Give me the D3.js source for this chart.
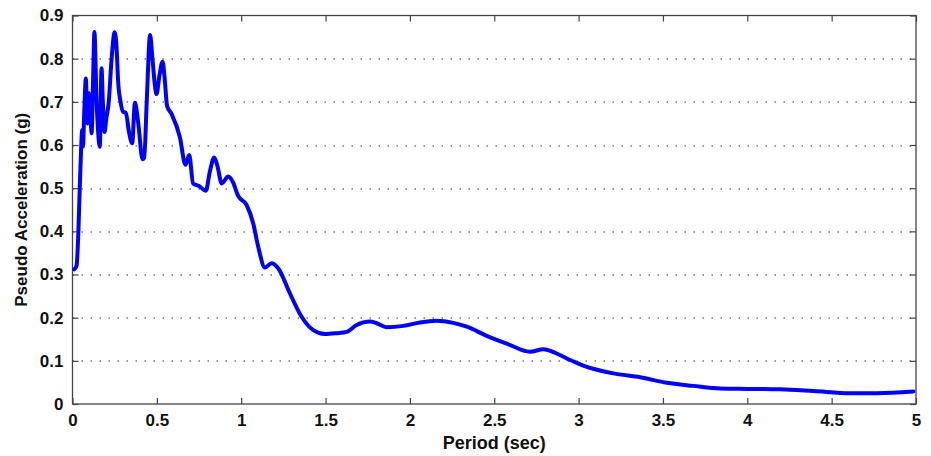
<!DOCTYPE html>
<html>
<head>
<meta charset="utf-8">
<script src="https://cdn.jsdelivr.net/npm/d3@7"></script>
<style>
  body { margin: 0; background: #fff; }
  svg text { font-family: "Liberation Sans", Arial, sans-serif; font-weight: bold; }
</style>
</head>
<body>
<svg id="chart" width="931" height="456"></svg>
<script>
// response spectrum
var periods = [0.01, 0.024, 0.035, 0.043, 0.052, 0.057, 0.062, 0.070, 0.079, 0.089,
    0.098, 0.106, 0.113, 0.122, 0.130, 0.142, 0.152, 0.162, 0.172, 0.180,
    0.190, 0.200, 0.215, 0.230, 0.250, 0.262, 0.270, 0.285, 0.300, 0.316,
    0.335, 0.354, 0.370, 0.390, 0.415, 0.425, 0.440, 0.460, 0.474, 0.488,
    0.498, 0.515, 0.534, 0.545, 0.561, 0.587, 0.636, 0.670, 0.692, 0.715,
    0.750, 0.790, 0.815, 0.840, 0.860, 0.884, 0.923, 0.950, 0.982, 1.032,
    1.071, 1.101, 1.141, 1.180, 1.220, 1.289, 1.358, 1.427, 1.496, 1.566,
    1.625, 1.684, 1.763, 1.803, 1.862, 1.961, 2.060, 2.159, 2.257, 2.337,
    2.455, 2.574, 2.712, 2.791, 2.870, 2.950, 3.028, 3.206, 3.365, 3.523,
    3.680, 3.839, 3.997, 4.195, 4.393, 4.610, 4.769, 4.985];

var accel = [0.312, 0.320, 0.400, 0.500, 0.600, 0.635, 0.597, 0.680, 0.754, 0.650,
    0.720, 0.680, 0.627, 0.750, 0.862, 0.710, 0.630, 0.596, 0.778, 0.700,
    0.630, 0.660, 0.700, 0.790, 0.861, 0.820, 0.750, 0.700, 0.677, 0.675,
    0.630, 0.604, 0.698, 0.650, 0.567, 0.570, 0.700, 0.855, 0.800, 0.740,
    0.718, 0.760, 0.793, 0.760, 0.690, 0.672, 0.619, 0.554, 0.577, 0.511,
    0.505, 0.494, 0.540, 0.571, 0.550, 0.511, 0.527, 0.515, 0.482, 0.461,
    0.419, 0.364, 0.316, 0.326, 0.314, 0.256, 0.202, 0.171, 0.162, 0.164,
    0.167, 0.183, 0.191, 0.187, 0.178, 0.181, 0.189, 0.193, 0.188, 0.179,
    0.158, 0.140, 0.121, 0.127, 0.117, 0.102, 0.089, 0.071, 0.062, 0.049,
    0.042, 0.036, 0.035, 0.034, 0.030, 0.025, 0.025, 0.029];

var xTicks = [0, 0.5, 1, 1.5, 2, 2.5, 3, 3.5, 4, 4.5, 5],
    yTicks = [0, 0.1, 0.2, 0.3, 0.4, 0.5, 0.6, 0.7, 0.8, 0.9];

var margin = {top: 15.5, right: 15, bottom: 52, left: 72.5},
    width = 931 - margin.left - margin.right,
    height = 456 - margin.top - margin.bottom,
    tick_len = 6,
    font_size = 17;

var svg = d3.select('#chart');
var g = svg.append('g')
    .attr('transform', 'translate(' + margin.left + ',' + margin.top + ')');

var x = d3.scaleLinear().domain([0, 5]).range([0, width]);
var y = d3.scaleLinear().domain([0, 0.9]).range([height, 0]);

// dotted horizontal grid
g.append('g')
    .selectAll('line')
    .data(yTicks.slice(1, -1)).enter()
    .append('line')
    .attr('x1', 0)
    .attr('x2', width)
    .attr('y1', function(d) { return Math.round(y(d)) + 0.5; })
    .attr('y2', function(d) { return Math.round(y(d)) + 0.5; })
    .attr('stroke', '#333')
    .attr('stroke-width', 1.2)
    .attr('stroke-dasharray', '1.5,7.5');

// axes, ticks pointing inward, on all four sides
function styleAxis(sel) {
    sel.select('.domain').remove();
    sel.selectAll('.tick line').attr('stroke', '#444').attr('stroke-width', 1.2);
    sel.selectAll('.tick text')
        .attr('font-size', font_size)
        .attr('fill', '#111');
}

g.append('g')
    .attr('transform', 'translate(0,' + height + ')')
    .call(d3.axisBottom(x).tickValues(xTicks).tickFormat(d3.format('')).tickSizeInner(-tick_len).tickPadding(10))
    .call(styleAxis);

g.append('g')
    .call(d3.axisTop(x).tickValues(xTicks).tickSizeInner(-tick_len).tickFormat(''))
    .call(styleAxis);

g.append('g')
    .call(d3.axisLeft(y).tickValues(yTicks).tickFormat(d3.format('')).tickSizeInner(-tick_len).tickPadding(9))
    .call(styleAxis);

g.append('g')
    .attr('transform', 'translate(' + width + ',0)')
    .call(d3.axisRight(y).tickValues(yTicks).tickSizeInner(-tick_len).tickFormat(''))
    .call(styleAxis);

g.append('rect')
    .attr('width', width)
    .attr('height', height)
    .attr('fill', 'none')
    .attr('stroke', '#444')
    .attr('stroke-width', 1.3);

// spectrum line
var line = d3.line()
    .x(function(d, i) { return x(periods[i]); })
    .y(function(d) { return y(d); })
    .curve(d3.curveMonotoneX);

g.append('path')
    .datum(accel)
    .attr('d', line)
    .attr('fill', 'none')
    .attr('stroke', '#0000ff')
    .attr('stroke-width', 4)
    .attr('stroke-linejoin', 'round')
    .attr('stroke-linecap', 'round');

// axis labels
svg.append('text')
    .text('Period (sec)')
    .attr('x', margin.left + width / 2)
    .attr('y', 449)
    .attr('text-anchor', 'middle')
    .attr('font-size', 18)
    .attr('fill', '#111');

svg.append('text')
    .text('Pseudo Acceleration (g)')
    .attr('transform', 'translate(27,' + (margin.top + height / 2) + ') rotate(-90)')
    .attr('text-anchor', 'middle')
    .attr('font-size', 17)
    .attr('fill', '#111');
</script>
</body>
</html>
